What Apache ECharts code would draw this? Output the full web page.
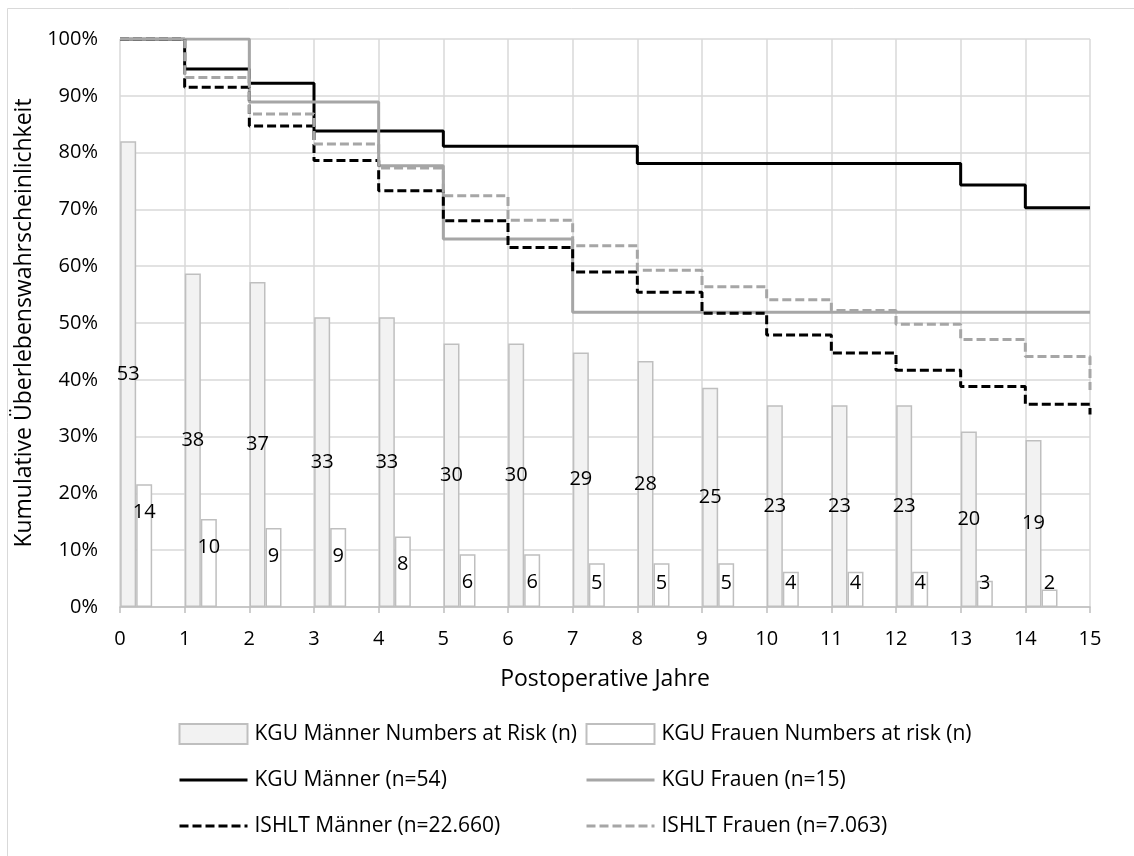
<!DOCTYPE html>
<html>
<head>
<meta charset="utf-8">
<style>
  html, body { margin: 0; padding: 0; background: #fff; }
  #chart { width: 1134px; height: 856px; }
</style>
<script src="https://cdn.jsdelivr.net/npm/echarts@6/dist/echarts.min.js"></script>
</head>
<body>
<div id="chart"></div>
<script>
// ---- data ----
const years = [0, 1, 2, 3, 4, 5, 6, 7, 8, 9, 10, 11, 12, 13, 14, 15];
const kguMen    = [100, 94.7, 92.2, 83.8, 83.8, 81.1, 81.1, 81.1, 78.1, 78.1, 78.1, 78.1, 78.1, 74.3, 70.3, 70.3];
const kguWomen  = [100, 100, 88.9, 88.9, 77.7, 64.8, 64.8, 51.9, 51.9, 51.9, 51.9, 51.9, 51.9, 51.9, 51.9, 51.9];
const ishltMen  = [100, 91.5, 84.7, 78.6, 73.3, 68.0, 63.3, 59.0, 55.4, 51.7, 47.9, 44.7, 41.7, 38.8, 35.7, 33.9];
const ishltWomen= [100, 93.2, 86.8, 81.5, 77.3, 72.4, 68.1, 63.6, 59.3, 56.4, 54.1, 52.2, 49.8, 47.1, 44.1, 38.2];

const riskYears = [0, 1, 2, 3, 4, 5, 6, 7, 8, 9, 10, 11, 12, 13, 14];
const menRiskN    = [53, 38, 37, 33, 33, 30, 30, 29, 28, 25, 23, 23, 23, 20, 19];
const menRiskBar  = [82.0, 58.7, 57.2, 51.0, 51.0, 46.4, 46.4, 44.8, 43.3, 38.6, 35.5, 35.5, 35.5, 30.9, 29.4];
const womenRiskN  = [14, 10, 9, 9, 8, 6, 6, 5, 5, 5, 4, 4, 4, 3, 2];
const womenRiskBar= [21.6, 15.5, 13.9, 13.9, 12.4, 9.3, 9.3, 7.7, 7.7, 7.7, 6.2, 6.2, 6.2, 4.6, 3.1];

const yTicks = [0, 10, 20, 30, 40, 50, 60, 70, 80, 90, 100];

const names = {
  menBar: 'KGU Männer Numbers at Risk (n)',
  womenBar: 'KGU Frauen Numbers at risk (n)',
  kguMen: 'KGU Männer (n=54)',
  kguWomen: 'KGU Frauen (n=15)',
  ishltMen: 'ISHLT Männer (n=22.660)',
  ishltWomen: 'ISHLT Frauen (n=7.063)'
};

// ---- chart ----
const FONT = 'Open Sans';
const chart = echarts.init(document.getElementById('chart'), null, { renderer: 'canvas' });

const pair = (xs, ys) => xs.map((x, i) => [x, ys[i]]);
const barPos = (xs, ys) => xs.map((x, i) => [x + 0.25, ys[i]]);

function stepLine(name, vals, color, dashed) {
  return {
    name, type: 'line', step: 'end', symbol: 'none', z: 3,
    data: pair(years, vals),
    lineStyle: { color, width: 3, type: dashed ? [9, 4] : 'solid', cap: 'butt' },
    itemStyle: { color },
    emphasis: { disabled: true }
  };
}

const barItem = n => ({ name: n, icon: 'rect' });
const lineItem = n => ({ name: n, itemStyle: { opacity: 0 }, lineStyle: { width: 3 } });

const legendCommon = {
  orient: 'vertical',
  itemWidth: 68,
  itemHeight: 20,
  itemGap: 22,
  selectedMode: false,
  textStyle: { fontFamily: FONT, fontSize: 21, color: '#000', lineHeight: 24, padding: [0, 0, 0, 2] }
};

const option = {
  animation: false,
  backgroundColor: '#fff',
  graphic: [{
    type: 'rect', silent: true,
    shape: { x: 7.5, y: 8.5, width: 1200, height: 900 },
    style: { fill: 'none', stroke: '#d9d9d9', lineWidth: 1 }
  }],
  grid: { left: 120, right: 44, top: 39, bottom: 249 },
  legend: [
    Object.assign({}, legendCommon, { left: 173, top: 717,
      data: [barItem(names.menBar), lineItem(names.kguMen), lineItem(names.ishltMen)] }),
    Object.assign({}, legendCommon, { left: 580, top: 717,
      data: [barItem(names.womenBar), lineItem(names.kguWomen), lineItem(names.ishltWomen)] })
  ],
  xAxis: {
    type: 'value', min: 0, max: 15, interval: 1,
    name: 'Postoperative Jahre', nameLocation: 'middle', nameGap: 61,
    nameTextStyle: { fontFamily: FONT, fontSize: 23, color: '#000' },
    axisLine: { show: true, lineStyle: { color: '#bfbfbf', width: 1.5 } },
    axisTick: { show: true, length: 6, lineStyle: { color: '#bfbfbf', width: 1.5 } },
    axisLabel: { fontFamily: FONT, fontSize: 20, color: '#000', margin: 22 },
    splitLine: { show: true, lineStyle: { color: '#d9d9d9', width: 1.5 } }
  },
  yAxis: {
    type: 'value', min: 0, max: 100, interval: 10,
    name: 'Kumulative Überlebenswahrscheinlichkeit', nameLocation: 'middle', nameGap: 76,
    nameTextStyle: { fontFamily: FONT, fontSize: 23, color: '#000' },
    axisLine: { show: false },
    axisTick: { show: false },
    axisLabel: { fontFamily: FONT, fontSize: 20, color: '#000', margin: 22,
      formatter: v => (yTicks.indexOf(v) >= 0 ? v + '%' : '') },
    splitLine: { show: true, lineStyle: { color: '#d9d9d9', width: 1.5 } }
  },
  series: [
    {
      name: names.menBar, type: 'bar', barWidth: 16, barGap: '0%', z: 2,
      data: barPos(riskYears, menRiskBar),
      itemStyle: { color: '#f2f2f2', borderColor: '#bfbfbf', borderWidth: 1.5 },
      label: { show: true, position: 'inside', fontFamily: FONT, fontSize: 20, color: '#000',
        formatter: p => String(menRiskN[p.dataIndex]) },
      emphasis: { disabled: true }
    },
    {
      name: names.womenBar, type: 'bar', barWidth: 16, barGap: '0%', z: 2,
      data: barPos(riskYears, womenRiskBar).map((d, i) => ({
        value: d,
        label: womenRiskBar[i] >= 9.2
          ? { position: 'insideTop', distance: 18 }
          : { position: 'insideBottom', distance: 14 }
      })),
      itemStyle: { color: '#ffffff', borderColor: '#bfbfbf', borderWidth: 1.5 },
      label: { show: true, fontFamily: FONT, fontSize: 20, color: '#000',
        formatter: p => String(womenRiskN[p.dataIndex]) },
      emphasis: { disabled: true }
    },
    stepLine(names.kguMen, kguMen, '#000000', false),
    stepLine(names.kguWomen, kguWomen, '#a6a6a6', false),
    stepLine(names.ishltMen, ishltMen, '#000000', true),
    stepLine(names.ishltWomen, ishltWomen, '#a6a6a6', true)
  ]
};

chart.setOption(option);
</script>
</body>
</html>
